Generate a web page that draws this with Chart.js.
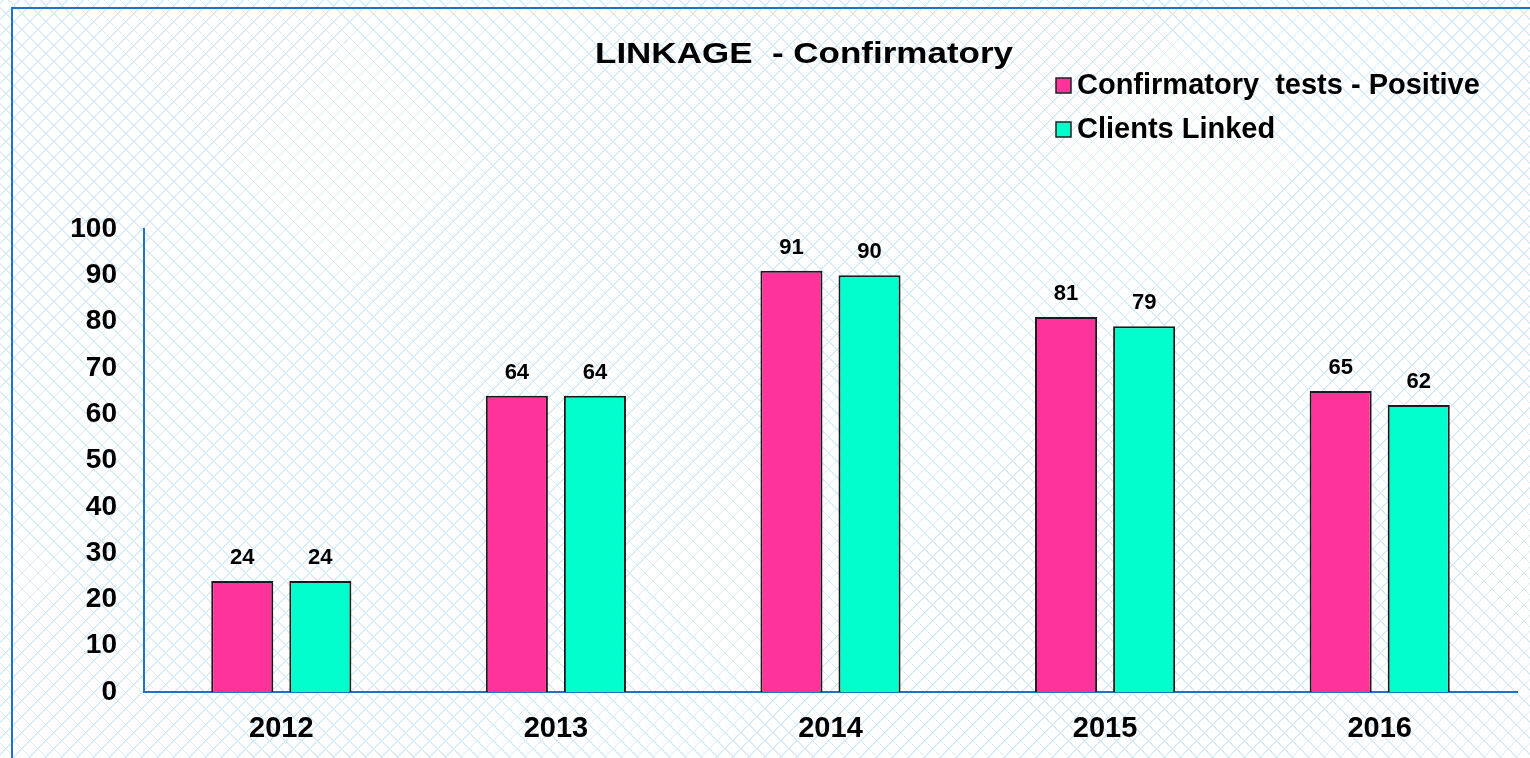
<!DOCTYPE html>
<html lang="en">
<head>
  <meta charset="UTF-8" />
  <title>LINKAGE - Confirmatory</title>
  <script src="https://cdn.jsdelivr.net/npm/chart.js"></script>
  <style>
    body {
      margin: 0;
      font-family: "Liberation Sans", Arial, sans-serif;
      background-color: #fff;
      background-image:
        repeating-linear-gradient(45deg, transparent 0 10.1px, #d8ecf8 10.1px 11.3px),
        repeating-linear-gradient(-45deg, transparent 0 10.1px, #d8ecf8 10.1px 11.3px);
    }

    .wrap {
      position: relative;
      width: 1530px;
      height: 758px;
      overflow: hidden;
    }

    .frame {
      position: absolute;
      left: 11px;
      top: 7px;
      width: 1600px;
      height: 800px;
      border-top: 2px solid #1f73c7;
      border-left: 2px solid #1f73c7;
    }

    canvas {
      position: absolute;
      left: 0;
      top: 0;
    }
  </style>
</head>
<body>
  <div class="wrap">
    <div class="frame"></div>
    <canvas id="linkageChart" width="1530" height="758"></canvas>
  </div>

  <script>
    const years = ["2012", "2013", "2014", "2015", "2016"];
    const positive = [24, 64, 91, 81, 65];
    const linked = [24, 64, 90, 79, 62];
    const seriesNames = ["Confirmatory  tests - Positive", "Clients Linked"];
    const chartTitle = "LINKAGE  - Confirmatory";

    const pink = "#ff3399";
    const teal = "#00ffcc";
    const axisBlue = "#1f73c7";
    const font = '"Liberation Sans", Arial, sans-serif';

    // title, legend and the numbers above the bars
    const extrasPlugin = {
      id: "extras",
      afterDatasetsDraw(chart) {
        const ctx = chart.ctx;
        ctx.save();
        ctx.fillStyle = "#000";
        ctx.textAlign = "center";
        ctx.textBaseline = "alphabetic";
        ctx.font = "bold 22px " + font;
        chart.data.datasets.forEach((ds, i) => {
          chart.getDatasetMeta(i).data.forEach((bar, j) => {
            ctx.fillText(ds.data[j], bar.x, bar.y - 17);
          });
        });
        ctx.restore();
      },
      afterDraw(chart) {
        const ctx = chart.ctx;
        ctx.save();
        ctx.fillStyle = "#000";
        ctx.textBaseline = "middle";

        // the title in the original is a bit wider than a plain 30px bold
        ctx.font = "bold 30px " + font;
        ctx.textAlign = "center";
        const w = ctx.measureText(chartTitle).width;
        ctx.save();
        ctx.translate(804, 55);
        ctx.scale(418 / w, 1);
        ctx.fillText(chartTitle, 0, 0);
        ctx.restore();

        ctx.font = "bold 29px " + font;
        ctx.textAlign = "left";
        chart.data.datasets.forEach((ds, i) => {
          const y = 85 + i * 44;
          ctx.fillStyle = ds.backgroundColor;
          ctx.fillRect(1056, y - 7, 15, 15);
          ctx.strokeStyle = "#222";
          ctx.lineWidth = 1.5;
          ctx.strokeRect(1056, y - 7, 15, 15);
          ctx.fillStyle = "#000";
          ctx.fillText(ds.label, 1077, y + 1);
        });
        ctx.restore();
      }
    };

    new Chart(document.getElementById("linkageChart"), {
      type: "bar",
      data: {
        labels: years,
        datasets: [
          {
            label: seriesNames[0],
            data: positive,
            backgroundColor: pink,
            borderColor: "#1a1a1a",
            borderWidth: 2
          },
          {
            label: seriesNames[1],
            data: linked,
            backgroundColor: teal,
            borderColor: "#1a1a1a",
            borderWidth: 2
          }
        ]
      },
      options: {
        responsive: false,
        animation: false,
        categoryPercentage: 0.5686,
        barPercentage: 0.795,
        layout: {
          padding: { top: 229, right: 13, bottom: 0, left: 0 }
        },
        plugins: {
          legend: { display: false },
          title: { display: false },
          tooltip: { enabled: false }
        },
        scales: {
          x: {
            grid: { display: false, drawTicks: false },
            border: { display: true, color: axisBlue, width: 2 },
            ticks: {
              color: "#000",
              padding: 20,
              font: { family: font, size: 29, weight: "bold" }
            },
            afterFit(scale) { scale.height = 66; }
          },
          y: {
            min: 0,
            max: 100,
            grid: { display: false, drawTicks: false },
            border: { display: true, color: axisBlue, width: 2 },
            ticks: {
              stepSize: 10,
              color: "#000",
              padding: 27,
              font: { family: font, size: 28, weight: "bold" }
            },
            afterFit(scale) { scale.width = 144; }
          }
        }
      },
      plugins: [extrasPlugin]
    });
  </script>
</body>
</html>
